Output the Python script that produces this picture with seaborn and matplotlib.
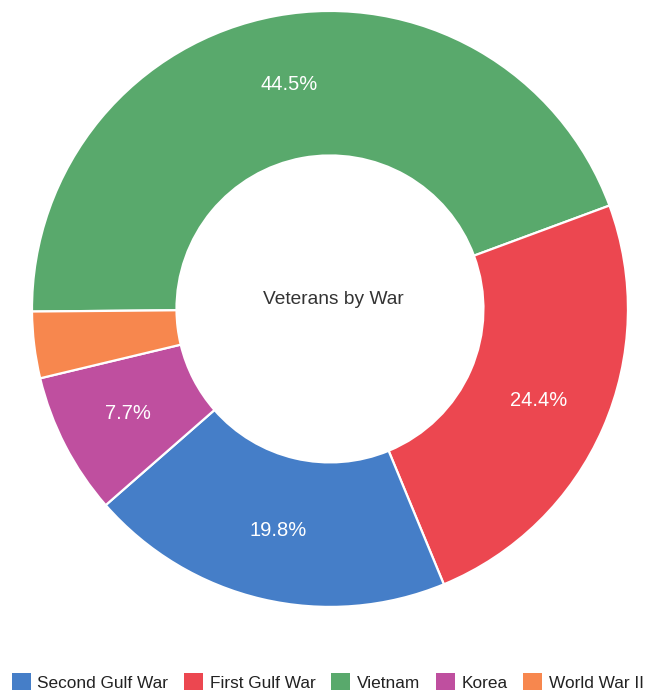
import numpy as np
import seaborn as sns
import matplotlib.pyplot as plt
from matplotlib.patches import Patch

# data, legend order
wars = ['Second Gulf War', 'First Gulf War', 'Vietnam', 'Korea', 'World War II']
shares = [19.8, 24.4, 44.5, 7.7, 3.6]
colors = ['#457ec8', '#ec4750', '#59a96c', '#bf4f9f', '#f7874e']
# order the slices are drawn in (clockwise from the left)
pie_order = ['Vietnam', 'First Gulf War', 'Second Gulf War', 'Korea', 'World War II']

sns.set_theme(style='white')
plt.rcParams['font.family'] = ['Liberation Sans', 'DejaVu Sans']

idx = [wars.index(w) for w in pie_order]
vals = [shares[i] for i in idx]
cols = [colors[i] for i in idx]

fig = plt.figure(figsize=(6.45, 6.98), dpi=100)
ax = fig.add_axes([0.0496, 0.1304, 0.924, 0.854])

def pct_label(p):
    return f'{p:.1f}%' if p >= 5 else ''

wedges, texts, autotexts = ax.pie(
    vals, colors=cols, startangle=180.5, counterclock=False,
    autopct=pct_label, pctdistance=0.765, radius=1,
    wedgeprops=dict(width=0.485, edgecolor='white', linewidth=1.6),
    textprops=dict(color='white', fontsize=14.5))
ax.set_xlim(-1, 1)
ax.set_ylim(-1, 1)
ax.set_aspect('equal')
ax.axis('off')

ax.text(0.01, 0.03, 'Veterans by War', ha='center', va='center',
        fontsize=13.8, color='#333333')

handles = [Patch(facecolor=c, edgecolor='none') for c in colors]
fig.legend(handles, wars, loc='center left', bbox_to_anchor=(-0.006, 0.023),
           ncol=5, frameon=False, fontsize=12.4, handlelength=1.1,
           handleheight=1.1, handletextpad=0.4, columnspacing=0.9,
           labelcolor='#222222')

fig.savefig('out.png', dpi=100)
